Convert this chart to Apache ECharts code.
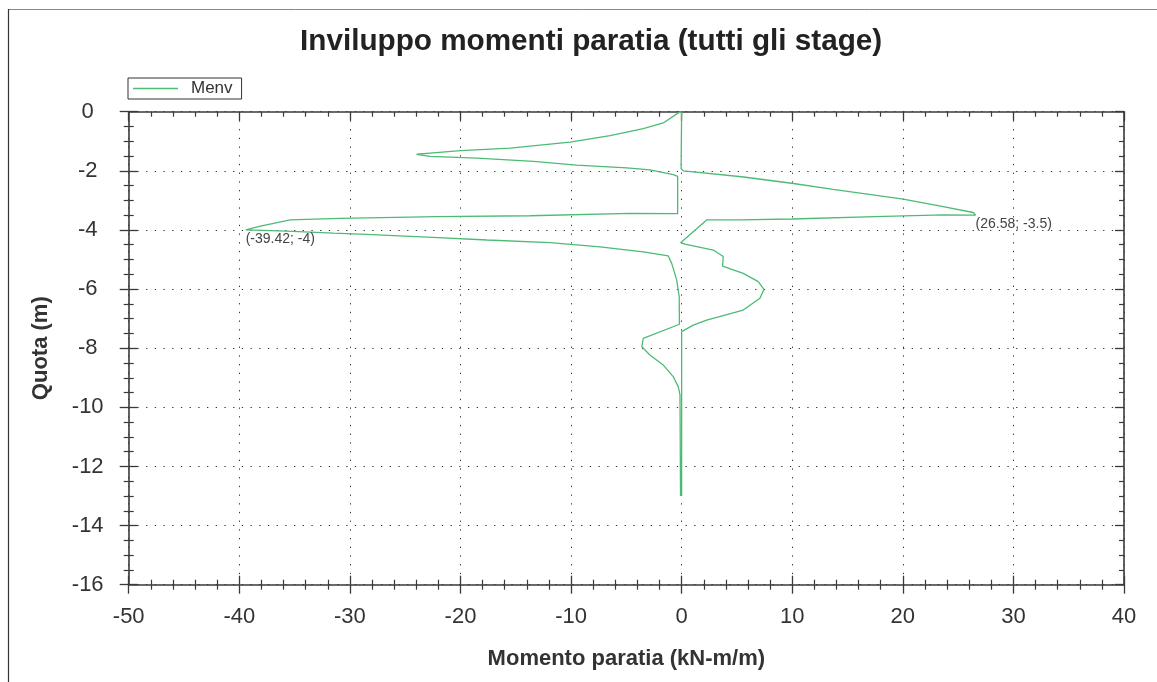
<!DOCTYPE html>
<html>
<head>
<meta charset="utf-8">
<title>Inviluppo momenti paratia</title>
<script src="https://cdn.jsdelivr.net/npm/echarts@6/dist/echarts.min.js"></script>
<style>
  html, body { margin: 0; padding: 0; background: #fff; }
  #chart { width: 1157px; height: 682px; }
</style>
</head>
<body>
<div id="chart"></div>
<script>
// envelope minimo (lato sinistro)
var minMoment = [0, -0.3, -1.66, -3.47, -6.48, -10.1, -15.5, -20.0, -22.76, -23.96, -22.76, -18.5, -13.4, -9.5, -4.97, -2.87, -0.76, -0.36, -0.36, -4.67, -13.7, -22.15, -30.9, -35.4, -36.9, -38.1, -39.42, -35.7, -31.5, -28.5, -22.5, -17.6, -11.9, -7.39, -3.47, -1.21, -0.9, -0.45, -0.22, -0.2, -3.47, -3.6, -2.87, -1.66, -0.76, -0.31, -0.15, -0.1];
var minDepth  = [0, -0.04, -0.38, -0.57, -0.81, -1.03, -1.23, -1.32, -1.40, -1.44, -1.51, -1.57, -1.68, -1.81, -1.90, -1.97, -2.13, -2.19, -3.45, -3.44, -3.52, -3.55, -3.61, -3.66, -3.78, -3.87, -4, -4.04, -4.11, -4.15, -4.25, -4.34, -4.43, -4.57, -4.74, -4.88, -5.13, -5.69, -6.26, -7.19, -7.67, -7.95, -8.23, -8.57, -8.96, -9.30, -9.58, -13];
// envelope massimo (lato destro)
var maxMoment = [0, -0.05, 0.15, 5.42, 9.95, 13.7, 20.04, 23.65, 26.37, 26.58, 23.65, 17.48, 9.95, 5.27, 2.26, -0.09, 0.3, 2.86, 3.76, 3.7, 5.57, 6.93, 7.44, 7.08, 5.57, 2.26, 1.05, 0, 0];
var maxDepth  = [0, -1.92, -2.0, -2.2, -2.42, -2.63, -2.96, -3.21, -3.41, -3.5, -3.49, -3.55, -3.63, -3.66, -3.66, -4.43, -4.48, -4.68, -4.9, -5.22, -5.47, -5.75, -6.01, -6.31, -6.71, -7.05, -7.22, -7.44, -13];

var xTicks = { min: -50, max: 40, interval: 10 };
var yTicks = { min: -16, max: 0, interval: 2 };

var FONT = '"Liberation Sans", Arial, sans-serif';
var GREEN = '#4cbb74';
var AX = '#3a3a3a';

function pairs(xs, ys) {
    var out = [];
    for (var i = 0; i < xs.length; i++) out.push([xs[i], ys[i]]);
    return out;
}
function extremePoint(xs, ys, useMin) {
    var k = 0;
    for (var i = 1; i < xs.length; i++) {
        if (useMin ? xs[i] < xs[k] : xs[i] > xs[k]) k = i;
    }
    return [xs[k], ys[k]];
}
var pMin = extremePoint(minMoment, minDepth, true);
var pMax = extremePoint(maxMoment, maxDepth, false);

function markFor(p) {
    return {
        symbol: 'circle', symbolSize: 0, silent: true,
        label: {
            show: true, position: 'bottom', align: 'left', distance: 2,
            fontFamily: FONT, fontSize: 14, color: '#444',
            formatter: function () { return '(' + p[0] + '; ' + p[1] + ')'; }
        },
        data: [{ coord: p }]
    };
}

function xAxisDef(pos, inside, main) {
    return {
        type: 'value', position: pos,
        min: xTicks.min, max: xTicks.max, interval: xTicks.interval,
        axisLine: { show: main || pos === 'top', onZero: false, lineStyle: { color: AX, width: 1.6 } },
        axisTick: { show: true, inside: inside, length: 9, lineStyle: { color: AX, width: 1.3 } },
        minorTick: { show: true, splitNumber: 5, length: 5, lineStyle: { color: AX, width: 1.2 } },
        axisLabel: { show: main, fontFamily: FONT, fontSize: 22, color: '#333', margin: 21 },
        splitLine: { show: main, lineStyle: { color: '#333', width: 1, type: [1.3, 7.4] } },
        name: main ? 'Momento paratia (kN-m/m)' : '',
        nameLocation: 'middle', nameGap: 63,
        nameTextStyle: { fontFamily: FONT, fontSize: 22, fontWeight: 'bold', color: '#333' }
    };
}
function yAxisDef(pos, inside, main) {
    return {
        type: 'value', position: pos,
        min: yTicks.min, max: yTicks.max, interval: yTicks.interval,
        axisLine: { show: main || pos === 'right', onZero: false, lineStyle: { color: AX, width: 1.6 } },
        axisTick: { show: true, inside: inside, length: 9, lineStyle: { color: AX, width: 1.3 } },
        minorTick: { show: true, splitNumber: 4, length: 5, lineStyle: { color: AX, width: 1.2 } },
        axisLabel: { show: main, fontFamily: FONT, fontSize: 22, color: '#333', margin: 41, align: 'center' },
        splitLine: { show: main, lineStyle: { color: '#333', width: 1, type: [1.3, 7.4] } },
        name: main ? 'Quota (m)' : '',
        nameLocation: 'middle', nameGap: 77,
        nameTextStyle: { fontFamily: FONT, fontSize: 22, fontWeight: 'bold', color: '#333' }
    };
}

var myChart = echarts.init(document.getElementById('chart'));
var option = {
    backgroundColor: '#fff',
    animation: false,
    color: [GREEN],
    title: {
        text: 'Inviluppo momenti paratia (tutti gli stage)',
        left: 295, top: 22,
        textStyle: { fontFamily: FONT, fontSize: 29.7, fontWeight: 'bold', color: '#222' }
    },
    legend: {
        data: ['Menv'],
        left: 128, top: 78,
        padding: [2, 9, 2, 5],
        borderColor: '#333', borderWidth: 1,
        icon: 'rect', itemWidth: 45, itemHeight: 1.5,
        textStyle: { fontFamily: FONT, fontSize: 17, color: '#333', padding: [0, 0, 0, 8] }
    },
    grid: { left: 128.7, right: 33, top: 111.7, bottom: 97.3, containLabel: false },
    xAxis: [xAxisDef('bottom', false, true), xAxisDef('bottom', true, false), xAxisDef('top', true, false)],
    yAxis: [yAxisDef('left', false, true), yAxisDef('left', true, false), yAxisDef('right', true, false)],
    graphic: [
        { type: 'line', shape: { x1: 8, y1: 9.5, x2: 1157, y2: 9.5 }, style: { stroke: '#888', lineWidth: 1 } },
        { type: 'line', shape: { x1: 8.5, y1: 9, x2: 8.5, y2: 682 }, style: { stroke: '#333', lineWidth: 1.2 } }
    ],
    series: [
        {
            name: 'Menv', type: 'line', xAxisIndex: 0, yAxisIndex: 0,
            showSymbol: false, lineStyle: { color: GREEN, width: 1.3 },
            data: pairs(minMoment, minDepth),
            markPoint: markFor(pMin)
        },
        {
            name: 'Menv', type: 'line', xAxisIndex: 0, yAxisIndex: 0,
            showSymbol: false, lineStyle: { color: GREEN, width: 1.3 },
            data: pairs(maxMoment, maxDepth),
            markPoint: markFor(pMax)
        }
    ]
};
myChart.setOption(option);
</script>
</body>
</html>
